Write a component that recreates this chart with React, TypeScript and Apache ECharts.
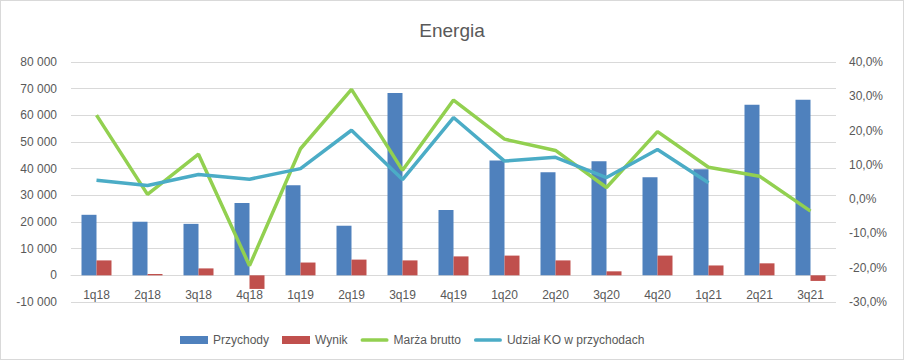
import React, { useEffect, useRef } from "react";
import * as echarts from "echarts";

const categories = ["1q18","2q18","3q18","4q18","1q19","2q19","3q19","4q19","1q20","2q20","3q20","4q20","1q21","2q21","3q21"];
const przychody = [22700, 20100, 19300, 27100, 33800, 18600, 68400, 24500, 43100, 38700, 42800, 36800, 39800, 64000, 65800];
const wynik = [5600, 500, 2600, -5100, 4800, 5900, 5600, 7100, 7400, 5600, 1500, 7400, 3700, 4500, -2100];
const marzaBrutto = [24.5, 1.4, 13.1, -19.4, 14.7, 32.0, 8.4, 28.9, 17.5, 14.2, 3.4, 19.7, 9.3, 6.7, -3.5];
const udzialKO = [5.5, 4.0, 7.2, 5.8, 8.9, 20.1, 5.7, 23.8, 11.1, 12.2, 6.3, 14.5, 4.8, null, null];

const FONT = '"Liberation Sans", Arial, sans-serif';
const TXT = "#595959";
const LINE_ICON = "path://M2,0 L28,0 A2,2 0 0 1 28,4 L2,4 A2,2 0 0 1 2,0 Z";

function fmtThousands(v: number): string {
  const s = Math.abs(v).toString().replace(/\B(?=(\d{3})+(?!\d))/g, " ");
  return (v < 0 ? "-" : "") + s;
}

export default function App() {
  const ref = useRef<HTMLDivElement>(null);
  useEffect(() => {
    document.body.style.margin = "0";
    const chart = echarts.init(ref.current!, undefined, { renderer: "svg" });
    chart.setOption({
      animation: false,
      backgroundColor: "#ffffff",
      textStyle: { fontFamily: FONT },
      title: {
        text: "Energia",
        left: "center",
        top: 15,
        textStyle: { color: TXT, fontSize: 19, fontWeight: "normal", fontFamily: FONT },
      },
      legend: {
        top: 328,
        left: 174,
        itemWidth: 28,
        itemHeight: 8,
        itemGap: 13,
        symbolKeepAspect: true,
        textStyle: { color: TXT, fontSize: 12, fontFamily: FONT },
        data: [
          { name: "Przychody", icon: "rect" },
          { name: "Wynik", icon: "rect" },
          { name: "Marża brutto", icon: LINE_ICON },
          { name: "Udział KO w przychodach", icon: LINE_ICON },
        ],
      },
      grid: { left: 70, right: 67, top: 61, bottom: 57 },
      xAxis: {
        type: "category",
        data: categories,
        offset: -27,
        axisLine: { onZero: false, lineStyle: { color: "#d9d9d9" } },
        axisTick: { show: false },
        axisLabel: { color: TXT, fontSize: 12, margin: 14, fontFamily: FONT },
      },
      yAxis: [
        {
          type: "value",
          min: -10000,
          max: 80000,
          interval: 10000,
          axisLine: { show: false },
          axisTick: { show: false },
          splitLine: { lineStyle: { color: "#d9d9d9", width: 1 } },
          axisLabel: { color: TXT, fontSize: 12, margin: 14, fontFamily: FONT, formatter: (v: number) => fmtThousands(v) },
        },
        {
          type: "value",
          min: -30,
          max: 40,
          interval: 10,
          axisLine: { show: false },
          axisTick: { show: false },
          splitLine: { show: false },
          axisLabel: { color: TXT, fontSize: 12, margin: 13, fontFamily: FONT, formatter: (v: number) => v.toFixed(1).replace(".", ",") + "%" },
        },
      ],
      series: [
        {
          name: "Przychody",
          type: "bar",
          data: przychody,
          barWidth: 15,
          barGap: "0%",
          itemStyle: { color: "#4f81bd" },
        },
        {
          name: "Wynik",
          type: "bar",
          data: wynik,
          barWidth: 15,
          barGap: "0%",
          itemStyle: { color: "#c0504d" },
        },
        {
          name: "Marża brutto",
          type: "line",
          yAxisIndex: 1,
          data: marzaBrutto,
          symbol: "none",
          lineStyle: { color: "#92d050", width: 3.5 },
          itemStyle: { color: "#92d050" },
        },
        {
          name: "Udział KO w przychodach",
          type: "line",
          yAxisIndex: 1,
          data: udzialKO,
          symbol: "none",
          lineStyle: { color: "#4bacc6", width: 3.5 },
          itemStyle: { color: "#4bacc6" },
        },
      ],
    });
    return () => chart.dispose();
  }, []);
  return (
    <div
      ref={ref}
      style={{ position: "absolute", left: 0, top: 0, width: 904, height: 360, boxSizing: "border-box", border: "1px solid #d9d9d9" }}
    />
  );
}
